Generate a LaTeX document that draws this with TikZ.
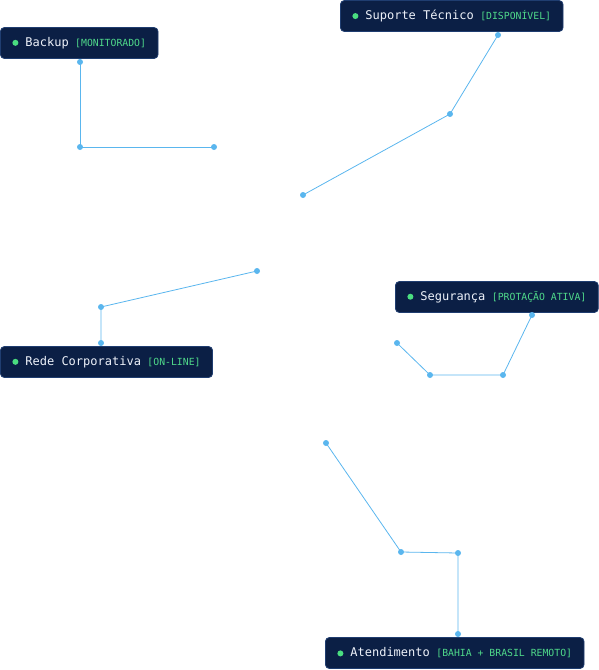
\documentclass[tikz,border=0pt]{standalone}
\usepackage{fontspec}
\setmainfont{DejaVu Sans Mono}
\definecolor{boxfill}{HTML}{0B1F45}
\definecolor{boxline}{HTML}{1F3D70}
\definecolor{dotgreen}{HTML}{4ADE80}
\definecolor{tagcol}{HTML}{4FD98A}
\definecolor{linkblue}{HTML}{5AB6EE}
\definecolor{txt}{HTML}{EEF2FA}
\newcommand{\gdot}{\tikz[baseline=-3.5pt]\fill[dotgreen] (0,0) circle (3pt);}
\newcommand{\lbl}[2]{\gdot\hspace{7pt}#1\hspace{6.5pt}{\fontsize{9.8}{11}\selectfont\color{tagcol}#2}}
\tikzset{
  card/.style={draw=boxline, line width=0.8pt, fill=boxfill, rounded corners=4pt,
    text=txt, font=\fontsize{12}{14}\selectfont, minimum height=31pt,
    inner xsep=12pt, inner ysep=0pt, anchor=west},
  link/.style={draw=linkblue, line width=0.8pt},
  pt/.style={fill=linkblue}
}
\begin{document}
\begin{tikzpicture}[x=1pt,y=-1pt]
\useasboundingbox (0,0) rectangle (599,670);
\node[card] (backup) at (0,43) {\lbl{Backup}{[MONITORADO]}};
\node[card] (suporte) at (340,16) {\lbl{Suporte Técnico}{[DISPONÍVEL]}};
\node[card] (seg) at (395,297) {\lbl{Segurança}{[PROTAÇÃO ATIVA]}};
\node[card] (rede) at (0,362) {\lbl{Rede Corporativa}{[ON-LINE]}};
\node[card] (atend) at (325,653) {\lbl{Atendimento}{[BAHIA + BRASIL REMOTO]}};

\coordinate (b1) at (80,62); \coordinate (b2) at (80,147); \coordinate (b3) at (214,147);
\coordinate (s1) at (498,35); \coordinate (s2) at (450,114); \coordinate (s3) at (303,195);
\coordinate (r1) at (101,343); \coordinate (r2) at (101,307); \coordinate (r3) at (257,271);
\coordinate (g1) at (532,315); \coordinate (g2) at (503,375); \coordinate (g3) at (430,375); \coordinate (g4) at (397,343);
\coordinate (a1) at (458,634); \coordinate (a2) at (458,553); \coordinate (a3) at (401,552); \coordinate (a4) at (326,443);

\draw[link] (b1) -- (b2) -- (b3);
\draw[link] (s1) -- (s2) -- (s3);
\draw[link] (r1) -- (r2) -- (r3);
\draw[link] (g1) -- (g2) -- (g3) -- (g4);
\draw[link] (a1) -- (a2) -- (a3) -- (a4);
\foreach \p in {b1,b2,b3,s1,s2,s3,r1,r2,r3,g1,g2,g3,g4,a1,a2,a3,a4}
  \fill[pt] (\p) circle (3pt);
\end{tikzpicture}
\end{document}
